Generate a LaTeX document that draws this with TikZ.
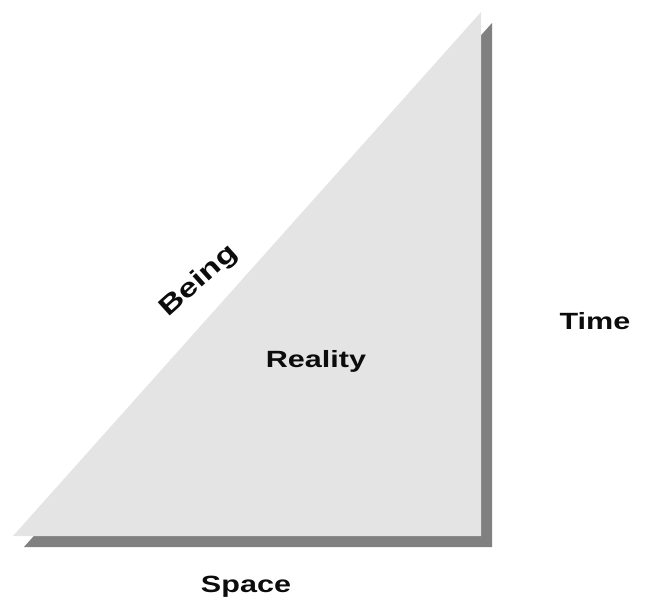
\documentclass[tikz,border=0pt]{standalone}
\usepackage{fontspec}
\setmainfont{Liberation Sans}
\newfontfamily\lblfont[FakeStretch=1.3]{Liberation Sans}
\usepackage{tikz}
\usetikzlibrary{positioning}
\definecolor{myface}{RGB}{228,228,228}
\definecolor{myshadow}{RGB}{128,128,128}
\definecolor{mytext}{RGB}{12,12,12}
\tikzset{
  facetri/.style={fill=myface, draw=none},
  shadowtri/.style={fill=myshadow, draw=none},
  lbl/.style={font=\lblfont\bfseries\fontsize{23.5}{26}\selectfont,
    text=mytext, inner sep=0pt, anchor=base}
}

\begin{document}
\begin{tikzpicture}[x=1pt,y=-1pt]
  \useasboundingbox (0,0) rectangle (646,603);
  \coordinate (sw) at (13,536);
  \coordinate (se) at (481,536);
  \coordinate (ne) at (481,12);
  % shadow first, then the face on top
  \fill[shadowtri] ([shift={(11,11)}]sw) -- ([shift={(11,11)}]se)
    -- ([shift={(11,11)}]ne) -- cycle;
  \fill[facetri] (sw) -- (se) -- (ne) -- cycle;
  \node[lbl, anchor=center, rotate=42,
    font=\lblfont\bfseries\fontsize{26}{28}\selectfont] (being) at (199,281) {Being};
  \node[lbl] (reality) at (316,367) {Reality};
  \node[lbl] (time) at (595,329) {Time};
  \node[lbl] (space) at (246,592) {Space};
\end{tikzpicture}
\end{document}
